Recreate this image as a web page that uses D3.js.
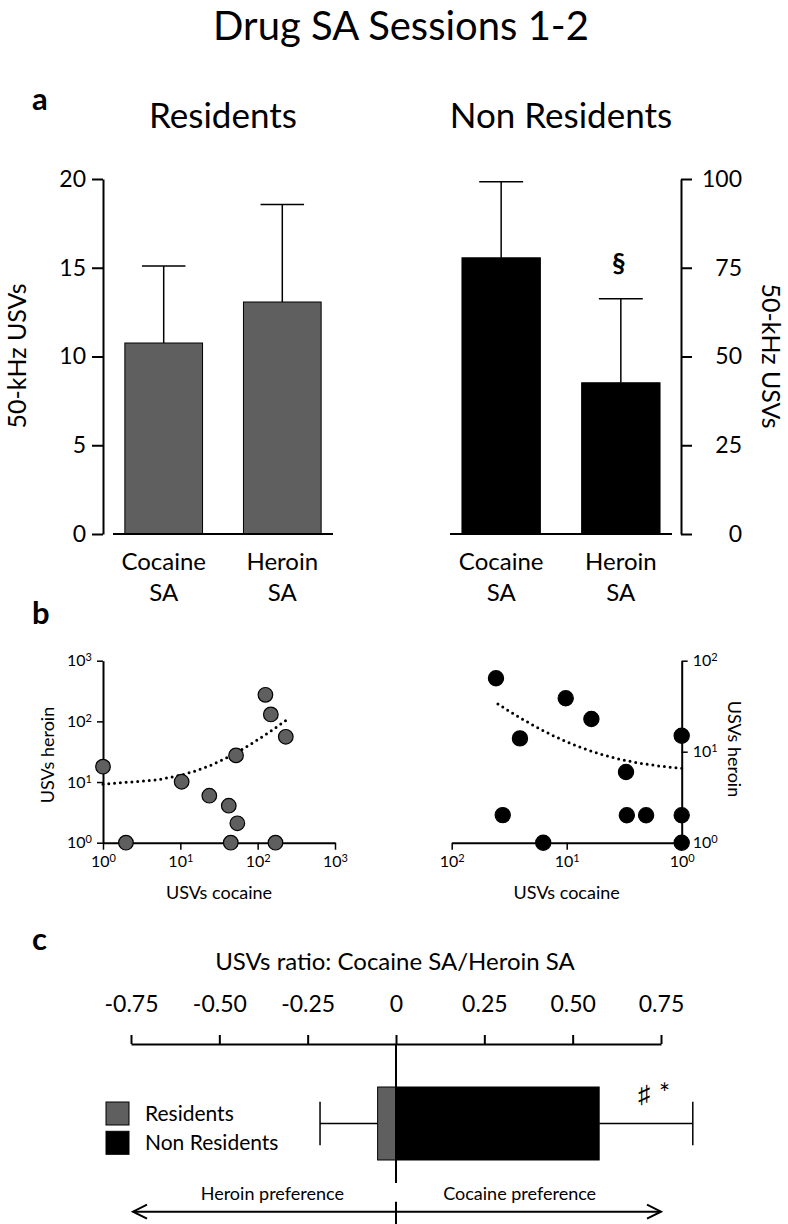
<!DOCTYPE html>
<html><head><meta charset="utf-8">
<script src="https://cdn.jsdelivr.net/npm/d3@7"></script>
<style>
body{margin:0;background:#fff}
text{font-family:Lato,'Open Sans',sans-serif;fill:#000}
</style>
</head><body>
<svg id="chart" width="788" height="1224"></svg>
<script>
// ---------- data ----------
const categories = ["Cocaine SA", "Heroin SA"];
const residentsMean = [10.76, 13.07];
const residentsErr = [4.34, 5.5];
const nonResidentsMean = [77.8, 42.6];
const nonResidentsErr = [21.4, 23.7];
const residentsTicks = [0, 5, 10, 15, 20];
const nonResidentsTicks = [0, 25, 50, 75, 100];

const resCocaine = [1, 1.98, 10.4, 23.7, 42.3, 54.6, 44.9, 52.5, 126, 148, 231, 170];
const resHeroin  = [17.9, 1, 10.1, 5.95, 4.07, 2.09, 1, 27.5, 274, 130, 55.7, 1];
const nonResCocaine = [41.2, 10.2, 6.1, 25.5, 1, 3.05, 36, 3.0, 2.04, 1, 16, 1];
const nonResHeroin  = [64.1, 38.6, 22.9, 14.0, 15.0, 5.98, 2.01, 2.0, 2.0, 2, 1, 1];
const resFit = [8.8, 0.41];          // intercept, slope (linear fit)
const resFitRange = [1, 238];
const nonResFit = [5.87, 0.698];
const nonResFitRange = [1, 41];
const resLogTicks = [1, 10, 100, 1000];
const nonResXTicks = [100, 10, 1];
const nonResYTicks = [1, 10, 100];

const groups = ["Residents", "Non Residents"];
const ratioMean = [-0.052, 0.575];
const ratioErr = [0.163, 0.265];
const ratioTicks = [-0.75, -0.5, -0.25, 0, 0.25, 0.5, 0.75];
const ratioTickLabels = ["-0.75", "-0.50", "-0.25", "0", "0.25", "0.50", "0.75"];

const GRAY = "#5f5f5f";
const svg = d3.select("#chart");

// ---------- titles ----------
svg.append("text").attr("x", 401).attr("y", 40).attr("text-anchor", "middle")
  .attr("font-size", 40).text("Drug SA Sessions 1-2");
[["a", 110], ["b", 624], ["c", 950]].forEach(([l, y]) =>
  svg.append("text").attr("x", 32).attr("y", y).attr("font-size", 31)
    .attr("font-weight", "bold").text(l));

// ---------- panel a ----------
function barPanel(opts) {
  const g = svg.append("g");
  const y = d3.scaleLinear().domain(opts.domain).range([534, 179]);
  const x = d3.scaleBand().domain(categories).range(opts.xRange)
    .paddingInner(0.345).paddingOuter(0.1);
  g.append("text").attr("x", (opts.xRange[0] + opts.xRange[1]) / 2).attr("y", 128)
    .attr("text-anchor", "middle").attr("font-size", 35).text(opts.title);
  const eb = g.selectAll(".eb").data(categories).join("g");
  eb.append("line").attr("x1", d => x(d) + x.bandwidth() / 2).attr("x2", d => x(d) + x.bandwidth() / 2)
    .attr("y1", (d, i) => y(opts.mean[i])).attr("y2", (d, i) => y(opts.mean[i] + opts.err[i]))
    .attr("stroke", "#000").attr("stroke-width", 1.5);
  eb.append("line").attr("x1", d => x(d) + x.bandwidth() * 0.22).attr("x2", d => x(d) + x.bandwidth() * 0.78)
    .attr("y1", (d, i) => y(opts.mean[i] + opts.err[i])).attr("y2", (d, i) => y(opts.mean[i] + opts.err[i]))
    .attr("stroke", "#000").attr("stroke-width", 1.5);
  g.selectAll(".bar").data(categories).join("rect")
    .attr("x", d => x(d)).attr("width", x.bandwidth())
    .attr("y", (d, i) => y(opts.mean[i])).attr("height", (d, i) => y(0) - y(opts.mean[i]))
    .attr("fill", opts.color).attr("stroke", "#000").attr("stroke-width", 1);
  g.append("line").attr("x1", opts.xRange[0]).attr("x2", opts.xRange[1])
    .attr("y1", y(0)).attr("y2", y(0)).attr("stroke", "#000").attr("stroke-width", 2);
  const axis = (opts.side === "left" ? d3.axisLeft(y) : d3.axisRight(y))
    .tickValues(opts.ticks).tickSize(11).tickSizeOuter(0).tickPadding(6);
  const ag = g.append("g").attr("transform", `translate(${opts.axisX},0)`).call(axis);
  ag.select(".domain").attr("stroke-width", 2);
  ag.selectAll(".tick line").attr("stroke-width", 2);
  ag.selectAll(".tick text").attr("font-size", 23).attr("font-family", "Lato");
  if (opts.side === "right") ag.selectAll(".tick text").attr("text-anchor", "end").attr("x", 61);
  const cl = g.selectAll(".cl").data(categories).join("text")
    .attr("text-anchor", "middle").attr("font-size", 24)
    .attr("x", d => x(d) + x.bandwidth() / 2).attr("y", 570);
  cl.each(function (d) {
    const parts = d.split(" ");
    d3.select(this).selectAll("tspan").data(parts).join("tspan")
      .attr("x", x(d) + x.bandwidth() / 2).attr("dy", (p, i) => i ? 31 : 0).text(p => p);
  });
  const rot = opts.side === "left" ? -90 : 90;
  g.append("text").attr("transform", `translate(${opts.labelX},356) rotate(${rot})`)
    .attr("text-anchor", "middle").attr("font-size", 25).text("50-kHz USVs");
  return { x, y };
}
barPanel({ domain: [0, 20], xRange: [113, 333], mean: residentsMean, err: residentsErr,
  color: GRAY, ticks: residentsTicks, side: "left", axisX: 103, labelX: 26, title: "Residents" });
const right = barPanel({ domain: [0, 100], xRange: [450, 672], mean: nonResidentsMean, err: nonResidentsErr,
  color: "#000", ticks: nonResidentsTicks, side: "right", axisX: 681, labelX: 762, title: "Non Residents" });
svg.append("text").attr("x", right.x("Heroin SA") + right.x.bandwidth() / 2 - 2)
  .attr("y", right.y(nonResidentsMean[1] + nonResidentsErr[1]) - 27)
  .attr("text-anchor", "middle").attr("font-size", 27).attr("font-weight", "bold").text("§");

// ---------- panel b ----------
function supLabels(sel) {
  sel.selectAll(".tick text").each(function (d) {
    const t = d3.select(this);
    t.text("10").attr("font-size", 16).attr("font-family", "Lato");
    t.append("tspan").attr("dy", "-0.45em").attr("font-size", 11).text(Math.round(Math.log10(d)));
  });
}
function scatterPanel(o) {
  const g = svg.append("g");
  const x = d3.scaleLog().domain(o.xDomain).range(o.xRange);
  const y = d3.scaleLog().domain(o.yDomain).range([842.7, 660.7]);
  const xa = g.append("g").attr("transform", "translate(0,842.7)")
    .call(d3.axisBottom(x).tickValues(o.xTicks).tickSize(7).tickSizeOuter(0).tickPadding(6));
  const yAxis = (o.side === "left" ? d3.axisLeft(y) : d3.axisRight(y))
    .tickValues(o.yTicks).tickSize(6).tickSizeOuter(0).tickPadding(5);
  const ya = g.append("g").attr("transform", `translate(${o.axisX},0)`).call(yAxis);
  [xa, ya].forEach(a => {
    a.select(".domain").attr("stroke-width", 2);
    a.selectAll(".tick line").attr("stroke-width", 1.5);
    supLabels(a);
  });
  const lx = d3.scaleLog().domain(o.fitRange);
  const fitPts = lx.ticks(60).concat(o.fitRange).sort((a, b) => a - b)
    .map(v => [v, o.fit[0] + o.fit[1] * v]);
  g.append("path").datum(fitPts)
    .attr("d", d3.line().x(d => x(d[0])).y(d => y(d[1])))
    .attr("fill", "none").attr("stroke", "#000").attr("stroke-width", 3)
    .attr("stroke-linecap", "round").attr("stroke-dasharray", "0 5.8");
  g.selectAll(".pt").data(o.cx).join("circle")
    .attr("cx", d => x(d)).attr("cy", (d, i) => y(o.cy[i])).attr("r", o.r)
    .attr("fill", o.color).attr("stroke", "#000").attr("stroke-width", 1.2);
  g.append("text").attr("x", (o.xRange[0] + o.xRange[1]) / 2).attr("y", 899)
    .attr("text-anchor", "middle").attr("font-size", 18).text("USVs cocaine");
  g.append("text").attr("transform", `translate(${o.yLabelX},${o.yLabelY}) rotate(${o.side === "left" ? -90 : 90})`)
    .attr("text-anchor", "middle").attr("font-size", 18).text("USVs heroin");
}
scatterPanel({ xDomain: [1, 1000], xRange: [103, 335], yDomain: [1, 1000], xTicks: resLogTicks, yTicks: resLogTicks,
  side: "left", axisX: 103, cx: resCocaine, cy: resHeroin, color: GRAY, r: 7.3,
  fit: resFit, fitRange: resFitRange, yLabelX: 54, yLabelY: 755 });
scatterPanel({ xDomain: [100, 1], xRange: [451.7, 681.7], yDomain: [1, 100], xTicks: nonResXTicks, yTicks: nonResYTicks,
  side: "right", axisX: 681.7, cx: nonResCocaine, cy: nonResHeroin, color: "#000", r: 7.6,
  fit: nonResFit, fitRange: nonResFitRange, yLabelX: 728, yLabelY: 749 });

// ---------- panel c ----------
const gc = svg.append("g");
const xr = d3.scaleLinear().domain([-0.75, 0.75]).range([131, 661]);
const yr = d3.scaleBand().domain(["ratio"]).range([1087, 1160]);
gc.append("text").attr("x", 395).attr("y", 970).attr("text-anchor", "middle")
  .attr("font-size", 24).text("USVs ratio: Cocaine SA/Heroin SA");
const xa = gc.append("g").attr("transform", "translate(0,1044)")
  .call(d3.axisTop(xr).tickValues(ratioTicks).tickSize(9).tickSizeOuter(0).tickPadding(23)
    .tickFormat((d, i) => ratioTickLabels[i]));
xa.select(".domain").attr("stroke-width", 2);
xa.selectAll(".tick line").attr("stroke-width", 2);
xa.selectAll(".tick text").attr("font-size", 23).attr("font-family", "Lato");
const cy = yr("ratio") + yr.bandwidth() / 2;
groups.forEach((gname, i) => {
  const end = ratioMean[i] + Math.sign(ratioMean[i]) * ratioErr[i];
  gc.append("line").attr("x1", xr(ratioMean[i])).attr("x2", xr(end)).attr("y1", cy).attr("y2", cy)
    .attr("stroke", "#000").attr("stroke-width", 1.5);
  gc.append("line").attr("x1", xr(end)).attr("x2", xr(end)).attr("y1", cy - 21.7).attr("y2", cy + 21.7)
    .attr("stroke", "#000").attr("stroke-width", 1.5);
});
gc.selectAll(".rb").data(groups).join("rect")
  .attr("x", (d, i) => xr(Math.min(0, ratioMean[i])))
  .attr("width", (d, i) => Math.abs(xr(ratioMean[i]) - xr(0)))
  .attr("y", yr("ratio")).attr("height", yr.bandwidth())
  .attr("fill", (d, i) => i ? "#000" : GRAY).attr("stroke", "#000").attr("stroke-width", 1);
gc.append("line").attr("x1", xr(0)).attr("x2", xr(0)).attr("y1", 1044).attr("y2", 1183)
  .attr("stroke", "#000").attr("stroke-width", 2);
gc.append("text").attr("x", 638).attr("y", 1103).attr("font-size", 25)
  .attr("font-family", "DejaVu Sans").style("fill", "#000").text("\u266F\uFE0E");
gc.append("text").attr("x", 659).attr("y", 1103).attr("font-size", 26).style("fill", "#000").text("*");
groups.forEach((gname, i) => {
  gc.append("rect").attr("x", 106).attr("y", 1102 + i * 29.3).attr("width", 23).attr("height", 23)
    .attr("fill", i ? "#000" : GRAY).attr("stroke", "#000").attr("stroke-width", 1);
  gc.append("text").attr("x", 145).attr("y", 1121 + i * 29).attr("font-size", 21).text(gname);
});
gc.append("text").attr("x", xr(-0.35)).attr("y", 1200).attr("text-anchor", "middle")
  .attr("font-size", 18).text("Heroin preference");
gc.append("text").attr("x", xr(0.35)).attr("y", 1200).attr("text-anchor", "middle")
  .attr("font-size", 18).text("Cocaine preference");
const ay = 1211.7;
gc.append("line").attr("x1", 133).attr("x2", 661).attr("y1", ay).attr("y2", ay)
  .attr("stroke", "#000").attr("stroke-width", 2);
gc.append("path").attr("d", `M147,${ay - 7}L133,${ay}L147,${ay + 7}M647,${ay - 7}L661,${ay}L647,${ay + 7}`)
  .attr("fill", "none").attr("stroke", "#000").attr("stroke-width", 2);
gc.append("line").attr("x1", xr(0)).attr("x2", xr(0)).attr("y1", 1201.7).attr("y2", 1224)
  .attr("stroke", "#000").attr("stroke-width", 2);
</script>
</body></html>
